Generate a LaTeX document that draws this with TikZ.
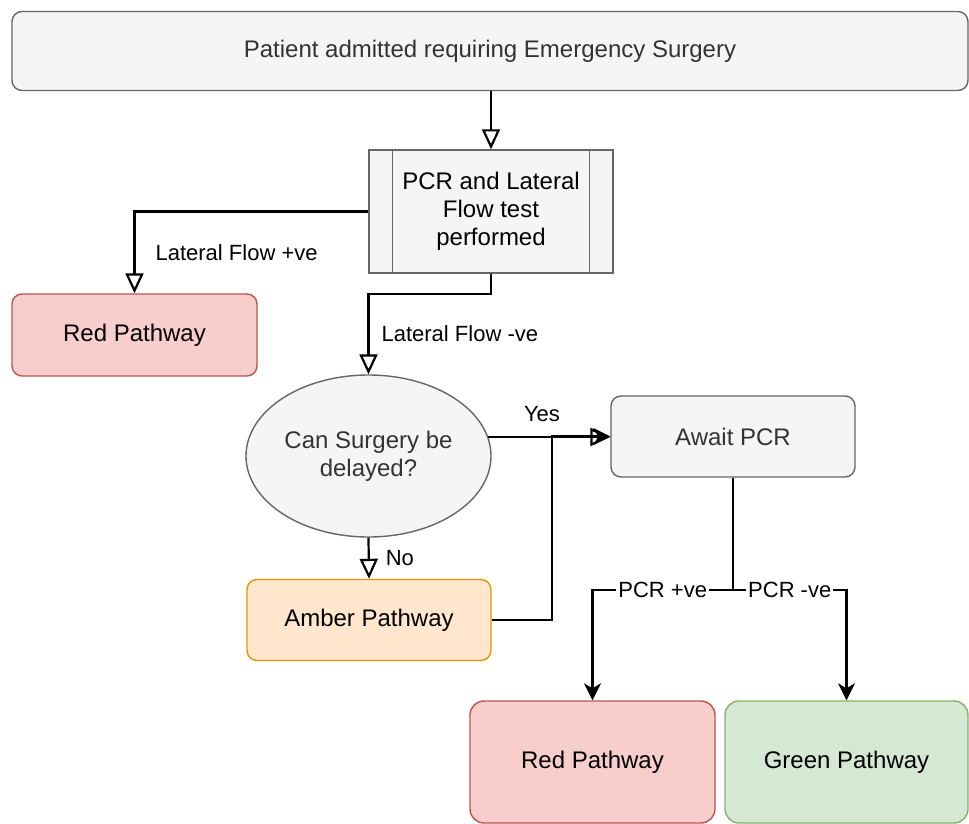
\documentclass[tikz,border=0pt]{standalone}
\usepackage{fontspec}
\setmainfont{Liberation Sans}
\usetikzlibrary{positioning, arrows.meta, calc, shapes.geometric}

\definecolor{greyfill}{HTML}{F5F5F5}
\definecolor{greyline}{HTML}{666666}
\definecolor{greytext}{HTML}{333333}
\definecolor{redfill}{HTML}{F8CECC}
\definecolor{redline}{HTML}{B85450}
\definecolor{amberfill}{HTML}{FFE6CC}
\definecolor{amberline}{HTML}{D79B00}
\definecolor{greenfill}{HTML}{D5E8D4}
\definecolor{greenline}{HTML}{82B366}

\begin{document}
\begin{tikzpicture}[
    x=0.5pt, y=-0.5pt,
    every node/.style={font=\fontsize{12}{14}\selectfont},
    box/.style={
        rectangle,
        rounded corners=5pt,
        line width=0.7pt,
        align=center,
        inner sep=2pt
    },
    greybox/.style={box, fill=greyfill, draw=greyline, text=greytext},
    redbox/.style={box, fill=redfill, draw=redline},
    amberbox/.style={box, fill=amberfill, draw=amberline},
    greenbox/.style={box, fill=greenfill, draw=greenline},
    process/.style={
        rectangle,
        fill=greyfill,
        draw=greyline,
        line width=0.7pt,
        align=center,
        minimum width=122pt,
        minimum height=61.5pt
    },
    decision/.style={
        ellipse,
        fill=greyfill,
        draw=greyline,
        text=greytext,
        line width=0.7pt,
        align=center,
        inner sep=0pt,
        minimum width=122.5pt,
        minimum height=81pt
    },
    lbl/.style={font=\fontsize{11}{13}\selectfont, inner sep=1pt},
    openarrow/.style={
        -{Triangle[length=10pt, width=9pt, fill=white]},
        line width=1.1pt
    },
    arrow/.style={
        -{Stealth[length=8.5pt, width=8.5pt, inset=2.5pt]},
        line width=1.1pt
    }
]
\useasboundingbox (0,0) rectangle (969,824);

% Admission and testing
\node[greybox, minimum width=478pt, minimum height=39.5pt] (admit) at (490,51)
    {Patient admitted requiring Emergency Surgery};
\node[process] (pcr) at (491,211.5) {PCR and Lateral\\Flow test\\performed};
\draw[greyline, line width=0.7pt] ([xshift=12pt]pcr.north west) -- ([xshift=12pt]pcr.south west);
\draw[greyline, line width=0.7pt] ([xshift=-12pt]pcr.north east) -- ([xshift=-12pt]pcr.south east);

% Lateral flow outcomes
\node[redbox, minimum width=122.5pt, minimum height=41pt] (redlf) at (134.5,335) {Red Pathway};
\node[decision] (delay) at (368.5,456) {Can Surgery be\\delayed?};
\node[amberbox, minimum width=122pt, minimum height=40.5pt] (amber) at (369,620) {Amber Pathway};
\node[greybox, minimum width=122pt, minimum height=40.5pt] (await) at (733,436.5) {Await PCR};

% PCR outcomes
\node[redbox, rounded corners=7pt, minimum width=122.5pt, minimum height=61pt] (redpcr) at (592.5,762) {Red Pathway};
\node[greenbox, rounded corners=7pt, minimum width=121.5pt, minimum height=61pt] (green) at (846.5,762) {Green Pathway};

% Connections
\draw[openarrow] (admit.south -| pcr.north) -- (pcr.north);
\draw[openarrow] (pcr.west) -| (redlf.north)
    node[lbl, pos=0.75, right=9pt] {Lateral Flow +ve};
\draw[openarrow] (pcr.south) -- ++(0,20) -| (delay.north)
    node[lbl, pos=0.75, right=5pt] {Lateral Flow -ve};
\draw[openarrow] (delay.9.6) -- (delay.9.6 -| await.west)
    node[lbl, pos=0.44, above=6pt] {Yes};
\draw[openarrow] (delay.south) -- (amber.north)
    node[lbl, midway, right=7pt] {No};
\draw[arrow] (amber.east) -- ++(60,0) |- (await.west);
\draw[arrow] (await.south) -- ++(0,112) -| (redpcr.north)
    node[lbl, pos=0.25, fill=white] {PCR +ve};
\draw[arrow] (await.south) -- ++(0,112) -| (green.north)
    node[lbl, pos=0.25, fill=white] {PCR -ve};

\end{tikzpicture}
\end{document}
